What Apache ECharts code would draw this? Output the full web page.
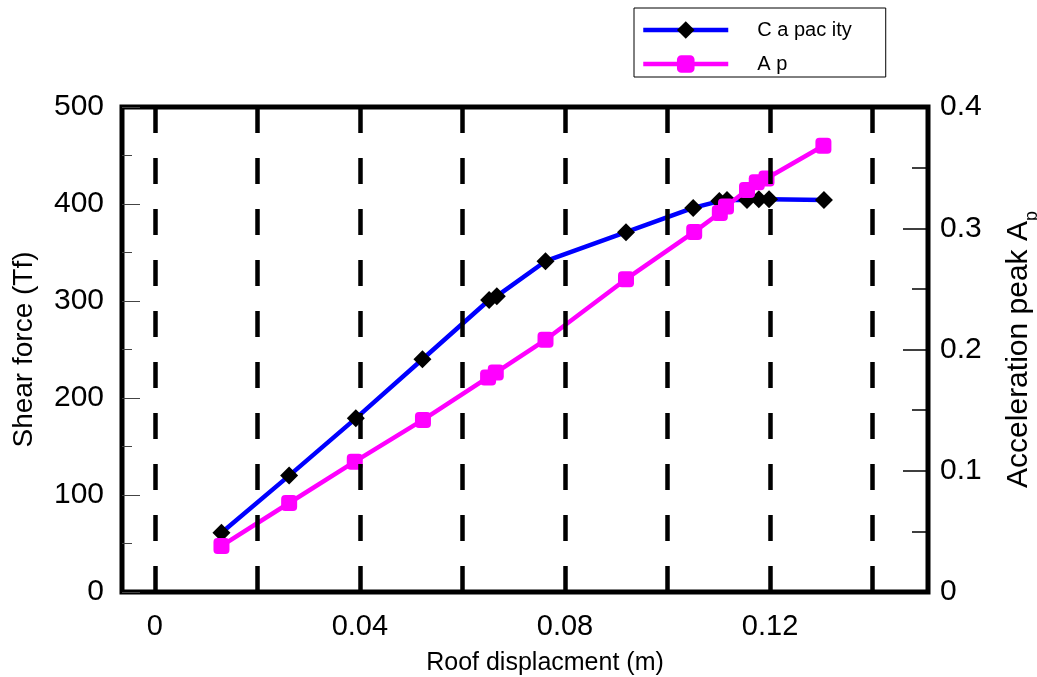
<!DOCTYPE html>
<html>
<head>
<meta charset="utf-8">
<script src="https://cdn.jsdelivr.net/npm/echarts@6/dist/echarts.min.js"></script>
<style>html,body{margin:0;padding:0;background:#fff}#c{width:1037px;height:677px}</style>
</head>
<body>
<div id="c"></div>
<script>
// ---- data ----
const capName = 'C a pac ity';
const apName = 'A p';
const capX = [0.013, 0.0262, 0.0392, 0.0522, 0.0652, 0.0667, 0.0762, 0.0919, 0.105, 0.1101, 0.1116, 0.1155, 0.1178, 0.1198, 0.1305];
const capV = [61, 120, 179, 240, 301, 305, 341, 371, 396, 403, 404, 404, 405, 405, 404];
const apX = [0.013, 0.0262, 0.039, 0.0523, 0.065, 0.0665, 0.0762, 0.0919, 0.1052, 0.1102, 0.1114, 0.1155, 0.1174, 0.1193, 0.1304];
const apA = [0.038, 0.0734, 0.1075, 0.1419, 0.177, 0.181, 0.208, 0.258, 0.297, 0.3126, 0.318, 0.3315, 0.338, 0.341, 0.368];
const xTickValues = [0, 0.04, 0.08, 0.12];
const xGridValues = [0, 0.02, 0.04, 0.06, 0.08, 0.10, 0.12, 0.14];

const FONT = 'Liberation Sans, Arial, sans-serif';
const chart = echarts.init(document.getElementById('c'), null, {renderer: 'canvas'});

chart.setOption({
  backgroundColor: '#fff',
  animation: false,
  textStyle: {fontFamily: FONT, color: '#000'},
  legend: {
    data: [capName, apName],
    orient: 'vertical',
    left: 634, top: 8,
    itemWidth: 85, itemHeight: 22, itemGap: 11,
    borderColor: '#000', borderWidth: 1,
    padding: [11, 34, 2, 7],
    lineStyle: {width: 4.5},
    textStyle: {fontSize: 20, color: '#000', fontFamily: FONT, padding: [0, 0, 0, 27]}
  },
  grid: {left: 122, right: 109, top: 107, bottom: 85, outerBoundsMode: 'none', containLabel: false,
    show: true, borderColor: '#000', borderWidth: 5, backgroundColor: 'transparent'},
  xAxis: {
    type: 'value', min: -0.0064, max: 0.1508,
    name: 'Roof displacment (m)', nameLocation: 'middle', nameGap: 59,
    nameTextStyle: {fontSize: 25, color: '#000', padding: [0, 0, 0, 40]},
    axisLine: {show: false, onZero: false}, axisTick: {show: false}, splitLine: {show: false},
    axisLabel: {customValues: xTickValues, fontSize: 29, color: '#000', margin: 20,
      formatter: v => String(v)}
  },
  yAxis: [{
    type: 'value', position: 'left', min: 0, max: 500, interval: 100,
    name: 'Shear force (Tf)', nameLocation: 'middle', nameGap: 84, nameRotate: 90,
    nameTextStyle: {fontSize: 28, color: '#000'},
    axisLine: {show: false, onZero: false},
    axisTick: {show: true, inside: true, length: 18, lineStyle: {color: '#444', width: 1}},
    minorTick: {show: true, splitNumber: 2, length: 10, lineStyle: {color: '#444', width: 1}},
    splitLine: {show: false},
    axisLabel: {fontSize: 30, color: '#000', margin: 18}
  }, {
    type: 'value', position: 'right', min: 0, max: 0.4, interval: 0.1,
    name: '{a|Acceleration peak A}{b|p}', nameLocation: 'middle', nameGap: 76, nameRotate: 90,
    nameTextStyle: {
      rich: {
        a: {fontSize: 30, color: '#000', fontFamily: FONT, verticalAlign: 'bottom', padding: [0, 0, 7, 0]},
        b: {fontSize: 18, color: '#000', fontFamily: FONT, verticalAlign: 'bottom'}
      }
    },
    axisLine: {show: false, onZero: false},
    axisTick: {show: true, inside: true, length: 25, lineStyle: {color: '#000', width: 1.5}},
    minorTick: {show: true, splitNumber: 2, length: 16, lineStyle: {color: '#000', width: 1.5}},
    splitLine: {show: false},
    axisLabel: {fontSize: 30, color: '#000', margin: 12}
  }],
  series: [{
    type: 'line', xAxisIndex: 0, yAxisIndex: 0, data: [], z: 1, silent: true,
    markLine: {
      silent: true, symbol: ['none', 'none'], label: {show: false},
      lineStyle: {color: '#000', width: 4.5, type: [26, 25]},
      data: xGridValues.map(v => ({xAxis: v}))
    }
  }, {
    name: capName, type: 'line', yAxisIndex: 0, z: 3,
    data: capX.map((x, i) => [x, capV[i]]),
    lineStyle: {color: '#0000ff', width: 4.5},
    itemStyle: {color: '#000'},
    symbol: 'diamond', symbolSize: 18, showAllSymbol: true
  }, {
    name: apName, type: 'line', yAxisIndex: 1, z: 4,
    data: apX.map((x, i) => [x, apA[i]]),
    lineStyle: {color: '#ff00ff', width: 4.5},
    itemStyle: {color: '#ff00ff'},
    symbol: 'roundRect', symbolSize: 16, showAllSymbol: true
  }]
});
chart.setOption({
  legend: {
    itemGap: 14,
    padding: [12, 34, 3, 7],
    textStyle: {fontSize: 20, color: '#000', fontFamily: FONT, padding: [0, 0, 0, 24]}
  }
});
</script>
</body>
</html>
